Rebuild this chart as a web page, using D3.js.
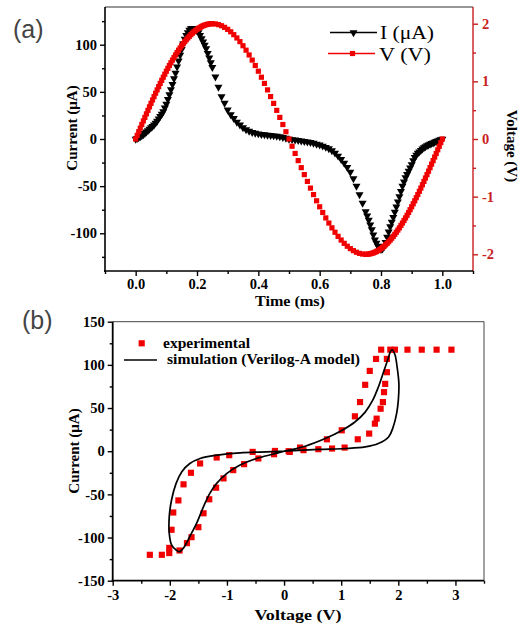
<!DOCTYPE html>
<html>
<head>
<meta charset="utf-8">
<script src="https://cdn.jsdelivr.net/npm/d3@7"></script>
<style>
  body { margin: 0; background: #fff; }
  svg { display: block; }
</style>
</head>
<body>
<svg id="chart" width="520" height="626"></svg>
<script>
// ---------- (a) current and voltage against time ----------
const timeMs = [
  0, 0.005, 0.01, 0.015, 0.02, 0.025, 0.03, 0.035, 0.04, 0.045, 0.05, 0.055, 0.06, 0.065, 0.07, 0.075,
  0.08, 0.085, 0.09, 0.095, 0.1, 0.105, 0.11, 0.115, 0.12, 0.125, 0.13, 0.135, 0.14, 0.145, 0.15, 0.155,
  0.16, 0.165, 0.17, 0.175, 0.18, 0.185, 0.19, 0.195, 0.2, 0.205, 0.21, 0.215, 0.22, 0.225, 0.23, 0.235,
  0.24, 0.245, 0.25,
  0.26, 0.27, 0.28, 0.29, 0.3, 0.31, 0.32, 0.33, 0.34, 0.35, 0.36, 0.37, 0.38, 0.39, 0.4, 0.41, 0.42,
  0.43, 0.44, 0.45, 0.46, 0.47, 0.48, 0.49, 0.5, 0.51, 0.52, 0.53, 0.54, 0.55, 0.56, 0.57, 0.58, 0.59,
  0.6, 0.61, 0.62, 0.63, 0.64, 0.65, 0.66, 0.67, 0.68, 0.69, 0.7, 0.71, 0.72, 0.73, 0.74,
  0.75, 0.755, 0.76, 0.765, 0.77, 0.775, 0.78, 0.785, 0.79, 0.795, 0.8, 0.805, 0.81, 0.815, 0.82, 0.825,
  0.83, 0.835, 0.84, 0.845, 0.85, 0.855, 0.86, 0.865, 0.87, 0.875, 0.88, 0.885, 0.89, 0.895, 0.9, 0.905,
  0.91, 0.915, 0.92, 0.925, 0.93, 0.935, 0.94, 0.945, 0.95, 0.955, 0.96, 0.965, 0.97, 0.975, 0.98, 0.985,
  0.99, 0.995, 1.0
];
const currentUA = [
  0, 0.7, 1.5, 2.5, 3.5, 4.7, 6, 7.5, 9, 10.5, 12, 13.5, 15, 17, 19, 21.5,
  24, 26.5, 29, 33, 37, 42, 47, 52.5, 58, 64, 70, 76.5, 83, 89, 95, 101,
  106, 110, 113, 115.5, 117, 117.5, 117, 116, 115, 113, 110, 106.5, 103, 99.5, 96, 91,
  86, 81, 76,
  66, 55, 45, 38, 31, 26, 22, 18, 15, 12, 10, 8.5, 7, 6.2, 5.6, 5, 4.6,
  4.2, 3.9, 3.5, 3, 2.5, 1.8, 1, 0, -0.5, -1, -1.5, -2, -2.5, -3, -3.6, -4.4, -5.3,
  -6.3, -7.4, -8.7, -10.2, -12.2, -14.8, -18, -21.5, -25.5, -30, -35, -42, -50, -59, -68,
  -77, -81.5, -86, -91, -96, -101.5, -107, -110.5, -113.5, -115.5, -117, -116.5, -114, -109.5, -104, -98.5,
  -93, -88, -83, -77.5, -72, -66.5, -61, -55.5, -50, -45.5, -41, -37.5, -34, -30.5, -27, -23,
  -19.5, -17, -15, -13.5, -12, -10.5, -9, -8, -7, -6.2, -5.5, -4.7, -4, -3.2, -2.5, -1.8,
  -1.2, -0.6, 0
];
const voltageV = [
  0, 0.063, 0.126, 0.188, 0.251, 0.313, 0.375, 0.436, 0.497, 0.558, 0.618, 0.677, 0.736, 0.794, 0.852, 0.908,
  0.964, 1.018, 1.072, 1.124, 1.176, 1.226, 1.275, 1.323, 1.369, 1.414, 1.458, 1.5, 1.541, 1.58, 1.618, 1.654,
  1.689, 1.721, 1.753, 1.782, 1.81, 1.836, 1.86, 1.882, 1.902, 1.921, 1.937, 1.952, 1.965, 1.975, 1.984, 1.991,
  1.996, 1.999, 2,
  1.996, 1.984, 1.965, 1.937, 1.902, 1.86, 1.81, 1.753, 1.689, 1.618, 1.541, 1.458, 1.369, 1.275, 1.176, 1.072, 0.964,
  0.852, 0.736, 0.618, 0.497, 0.375, 0.251, 0.126, 0, -0.126, -0.251, -0.375, -0.497, -0.618, -0.736, -0.852, -0.964, -1.072,
  -1.176, -1.275, -1.369, -1.458, -1.541, -1.618, -1.689, -1.753, -1.81, -1.86, -1.902, -1.937, -1.965, -1.984, -1.996,
  -2, -1.999, -1.996, -1.991, -1.984, -1.975, -1.965, -1.952, -1.937, -1.921, -1.902, -1.882, -1.86, -1.836, -1.81, -1.782,
  -1.753, -1.721, -1.689, -1.654, -1.618, -1.58, -1.541, -1.5, -1.458, -1.414, -1.369, -1.323, -1.275, -1.226, -1.176, -1.124,
  -1.072, -1.018, -0.964, -0.908, -0.852, -0.794, -0.736, -0.677, -0.618, -0.558, -0.497, -0.436, -0.375, -0.313, -0.251, -0.188,
  -0.126, -0.063, 0
];
const timeTicks = [0, 0.2, 0.4, 0.6, 0.8, 1.0];
const timeMinorTicks = [-0.1, 0.1, 0.3, 0.5, 0.7, 0.9, 1.1];
const currentTicksA = [-100, -50, 0, 50, 100];
const currentMinorA = [-125, -75, -25, 25, 75, 125];
const voltageTicksA = [-2, -1, 0, 1, 2];
const voltageMinorA = [-1.5, -0.5, 0.5, 1.5];
const legendA = ["I (\u03bcA)", "V (V)"];

// ---------- (b) current against voltage ----------
const expVoltage = [
  0.10, 0.28, 0.75, 1.01, 1.24, 1.33, 1.42, 1.50, 1.61,
  1.70, 1.86, 1.94, 2.16, 2.41, 2.67, 2.93,
  1.80, 1.80, 1.77, 1.75, 1.73, 1.69, 1.62, 1.59, 1.49, 1.29, 1.06, 0.84, 0.60, 0.34, 0.08,
  -0.16, -0.55, -0.96, -1.18, -1.47, -1.63, -1.76, -1.85, -1.94, -1.97, -2.01,
  -2.01, -2.14, -2.35,
  -1.83, -1.70, -1.62, -1.50, -1.41, -1.31, -1.19, -1.06, -0.89, -0.70, -0.45, -0.175
];
const expCurrent = [
  -0.8, 4.2, 13.8, 24.2, 40.4, 56.9, 76.9, 93, 106.9,
  117.6, 117.6, 117.6, 117.6, 117.6, 117.6, 117.6,
  106.9, 91.5, 78, 68.4, 56.9, 49.2, 37.7, 31.9, 20.4, 13.8, 4.2, 3.1, 2.3, 1.2, 0,
  0.3, -0.8, -4.6, -7.3, -14.2, -25, -38.4, -57, -71, -91, -112,
  -118, -120, -120,
  -115, -106.5, -99.6, -88, -71.9, -55.7, -42.3, -31.5, -21.9, -15, -8.4, -3.5
];
const simVoltage = [
  0, 0.37, 0.72, 1.01, 1.24, 1.42, 1.55, 1.65, 1.74, 1.82, 1.86, 1.89, 1.94, 1.98, 2.01, 2.0,
  1.97, 1.91, 1.83, 1.65, 1.42, 1.07, 0.6, 0,
  -0.77, -1.18, -1.47, -1.65, -1.79, -1.89, -1.97, -2.01, -2.01, -1.97, -1.88, -1.83,
  -1.76, -1.65, -1.53, -1.41, -1.3, -1.18, -1.0, -0.77, -0.48, -0.2, 0
];
const simCurrent = [
  0, 5.8, 14.6, 24, 33.8, 45.3, 58.8, 74.2, 91.5, 107, 115, 117.5, 112, 97, 78, 58.8,
  43.5, 28, 16.5, 8.9, 5, 3.1, 2, 0,
  -1.9, -4.6, -8.4, -14.2, -23.8, -37.3, -56.5, -75.8, -95, -108.4, -115, -116.5,
  -112, -98.8, -83.4, -64.2, -48.8, -37.3, -25.7, -16.1, -8.4, -3.5, 0
];
const voltageTicksB = [-3, -2, -1, 0, 1, 2, 3];
const voltageMinorB = [-2.5, -1.5, -0.5, 0.5, 1.5, 2.5, 3.5];
const currentTicksB = [-150, -100, -50, 0, 50, 100, 150];
const currentMinorB = [-125, -75, -25, 25, 75, 125];
const legendB = ["experimental", "simulation (Verilog-A model)"];

// ---------- drawing ----------
const SERIF = "'Liberation Serif','Times New Roman',serif";
const SANS = "'Liberation Sans',Arial,sans-serif";
const RED = "#f00000";
const AXIS_RED = "#c81e1e";
const svg = d3.select("#chart");
const plain = d => String(d);

function axisGroup(x, y, axis, color) {
  const g = svg.append("g").attr("transform", `translate(${x},${y})`).call(axis);
  g.select(".domain").remove();
  g.selectAll("line").attr("stroke", color).attr("stroke-width", 1.4);
  g.selectAll("text")
    .attr("font-family", SERIF).attr("font-weight", "bold")
    .attr("font-size", 14.5).attr("fill", color);
  return g;
}
function hLine(x1, x2, y, color, w) {
  svg.append("line").attr("x1", x1).attr("x2", x2).attr("y1", y).attr("y2", y)
    .attr("stroke", color).attr("stroke-width", w);
}
function vLine(x, y1, y2, color, w) {
  svg.append("line").attr("x1", x).attr("x2", x).attr("y1", y1).attr("y2", y2)
    .attr("stroke", color).attr("stroke-width", w);
}
function label(text, x, y, opts) {
  const t = svg.append("text").attr("x", x).attr("y", y).text(text)
    .attr("font-family", opts.family || SERIF)
    .attr("font-weight", opts.weight || "bold")
    .attr("font-size", opts.size || 15)
    .attr("fill", opts.fill || "#000")
    .attr("text-anchor", opts.anchor || "start");
  if (opts.rotate) t.attr("transform", `rotate(${opts.rotate},${x},${y})`);
  if (opts.length) t.attr("textLength", opts.length).attr("lengthAdjust", "spacingAndGlyphs");
  return t;
}

const triangle = d3.symbol(d3.symbolTriangle, 28)();
const squareA = d3.symbol(d3.symbolSquare, 27)();
const squareB = d3.symbol(d3.symbolSquare, 38)();

// panel (a)
const xA = d3.scaleLinear().domain([-0.1, 1.1]).range([105, 473]);
const yI = d3.scaleLinear().domain([-140, 140]).range([271, 7]);
const yV = d3.scaleLinear().domain([-2.29, 2.29]).range([271, 7]);

axisGroup(0, 271, d3.axisBottom(xA).tickValues(timeMinorTicks).tickFormat("").tickSize(3), "#000");
axisGroup(0, 271, d3.axisBottom(xA).tickValues(timeTicks).tickFormat(d3.format(".1f")).tickSize(5).tickPadding(3), "#000");
axisGroup(105, 0, d3.axisLeft(yI).tickValues(currentMinorA).tickFormat("").tickSize(3), "#000");
axisGroup(105, 0, d3.axisLeft(yI).tickValues(currentTicksA).tickFormat(plain).tickSize(5).tickPadding(3), "#000");
axisGroup(473, 0, d3.axisRight(yV).tickValues(voltageMinorA).tickFormat("").tickSize(3), AXIS_RED);
axisGroup(473, 0, d3.axisRight(yV).tickValues(voltageTicksA).tickFormat(plain).tickSize(5).tickPadding(4), AXIS_RED);

hLine(105, 473, 7, "#333", 1);
vLine(473, 7, 271, AXIS_RED, 1.4);
vLine(105, 7, 272, "#000", 1.6);
hLine(104, 473, 271, "#000", 1.6);

svg.append("g").selectAll("path").data(timeMs).join("path")
  .attr("d", triangle).attr("fill", "#000")
  .attr("transform", (t, i) => `translate(${xA(t)},${yI(currentUA[i])}) rotate(180)`);
svg.append("g").selectAll("path").data(timeMs).join("path")
  .attr("d", squareA).attr("fill", RED)
  .attr("transform", (t, i) => `translate(${xA(t)},${yV(voltageV[i])})`);

// legend (a)
hLine(330, 377, 32.5, "#000", 1.3);
svg.append("path").attr("d", triangle).attr("fill", "#000").attr("transform", "translate(353.5,32.5) rotate(180)");
label(legendA[0], 380, 39, { weight: "normal", size: 18, length: 54 });
hLine(328, 375, 53.5, RED, 1.3);
svg.append("path").attr("d", squareA).attr("fill", RED).attr("transform", "translate(352.5,53.5)");
label(legendA[1], 379, 60.5, { weight: "normal", size: 18, length: 52 });

// titles (a)
label("(a)", 13, 38, { family: SANS, weight: "normal", size: 25, fill: "#444" });
label("Current (\u03bcA)", 77, 128, { size: 15, anchor: "middle", rotate: -90 });
label("Time (ms)", 290, 306, { size: 15, anchor: "middle", length: 70 });
label("Voltage (V)", 507, 146, { size: 15, anchor: "middle", rotate: 90 });

// panel (b)
const xB = d3.scaleLinear().domain([-3, 3.5]).range([112.7, 484]);
const yB = d3.scaleLinear().domain([-150, 150]).range([580.7, 321.7]);

axisGroup(0, 580.7, d3.axisBottom(xB).tickValues(voltageMinorB).tickFormat("").tickSize(3), "#000");
axisGroup(0, 580.7, d3.axisBottom(xB).tickValues(voltageTicksB).tickFormat(plain).tickSize(5).tickPadding(4), "#000");
axisGroup(112.7, 0, d3.axisLeft(yB).tickValues(currentMinorB).tickFormat("").tickSize(3), "#000");
axisGroup(112.7, 0, d3.axisLeft(yB).tickValues(currentTicksB).tickFormat(plain).tickSize(5).tickPadding(3), "#000");

hLine(112.7, 484, 321.7, "#444", 1);
vLine(484, 321.7, 580.7, "#444", 1);
vLine(112.7, 321.7, 581.7, "#000", 1.8);
hLine(111.7, 484, 580.7, "#000", 1.8);

svg.append("g").selectAll("path").data(expVoltage).join("path")
  .attr("d", squareB).attr("fill", RED)
  .attr("transform", (v, i) => `translate(${xB(v)},${yB(expCurrent[i])})`);

const simLine = d3.line()
  .x(d => xB(d[0])).y(d => yB(d[1]))
  .curve(d3.curveCatmullRom.alpha(0.5));
svg.append("path")
  .datum(simVoltage.map((v, i) => [v, simCurrent[i]]))
  .attr("d", simLine).attr("fill", "none").attr("stroke", "#000").attr("stroke-width", 1.7);

// legend (b)
svg.append("path").attr("d", squareB).attr("fill", RED).attr("transform", "translate(141.7,343.3)");
label(legendB[0], 163, 347.5, { size: 14, length: 87 });
hLine(124, 157, 360, "#000", 1.6);
label(legendB[1], 167, 364, { size: 14, length: 193 });

// titles (b)
label("(b)", 22, 329, { family: SANS, weight: "normal", size: 25, fill: "#444" });
label("Current (\u03bcA)", 79, 451, { size: 15, anchor: "middle", rotate: -90 });
label("Voltage (V)", 298, 620, { size: 15, anchor: "middle", length: 87 });
</script>
</body>
</html>
